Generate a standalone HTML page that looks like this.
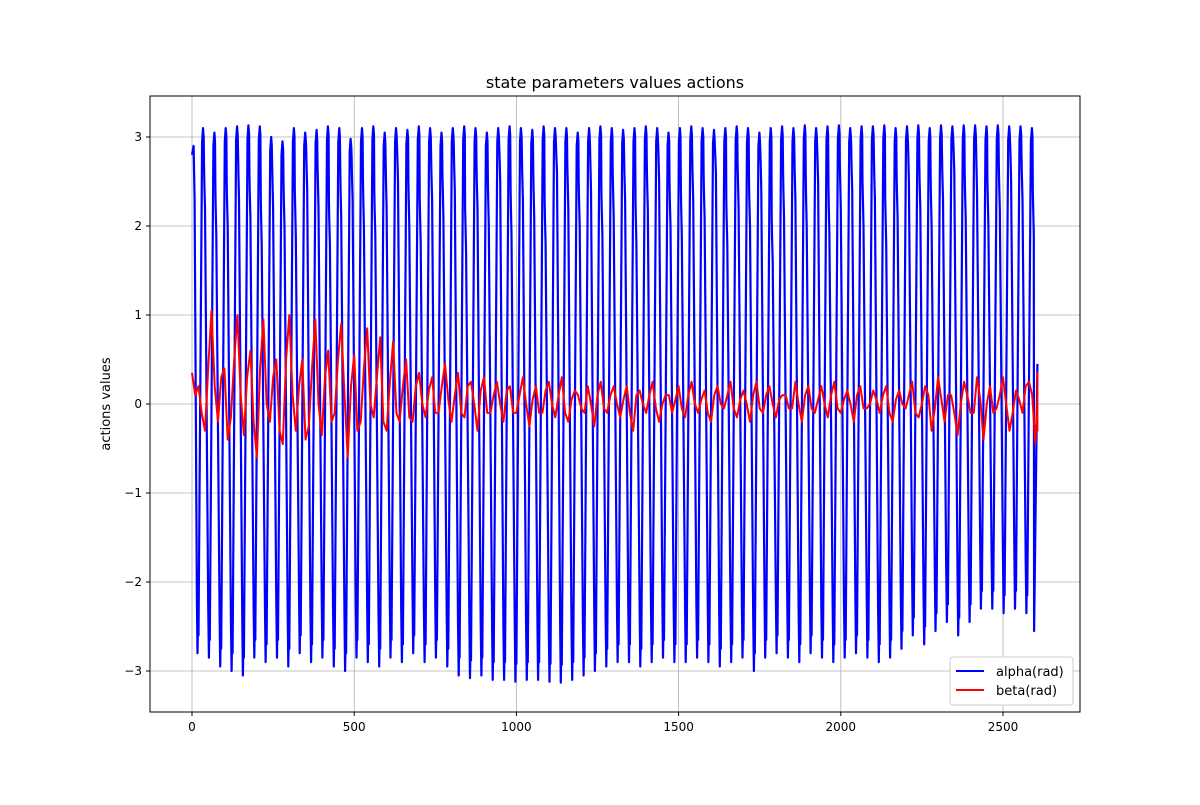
<!DOCTYPE html>
<html><head><meta charset="utf-8"><style>
body{margin:0;background:#fff;font-family:"Liberation Sans","DejaVu Sans",sans-serif;}
svg text{font-family:"DejaVu Sans","Liberation Sans",sans-serif;}
</style></head><body>
<svg id="chart" width="1200" height="800" xmlns="http://www.w3.org/2000/svg">
<rect width="1200" height="800" fill="#fff"/>
<g id="grid"></g><g id="series"></g><g id="axes"></g>
<text x="615" y="88" text-anchor="middle" font-size="16">state parameters values actions</text>
<text transform="translate(110,404) rotate(-90)" text-anchor="middle" font-size="13">actions values</text>
<g>
<rect x="950" y="657" width="123" height="48" rx="3" fill="#fff" stroke="#ccc"/>
<line x1="956" y1="671" x2="984" y2="671" stroke="blue" stroke-width="2"/>
<text x="996" y="676" font-size="13">alpha(rad)</text>
<line x1="956" y1="690" x2="984" y2="690" stroke="red" stroke-width="2"/>
<text x="996" y="695" font-size="13">beta(rad)</text>
</g>
</svg>
<script>
const xTicks=[0,500,1000,1500,2000,2500];
const yTicks=[-3,-2,-1,0,1,2,3];
const alphaPeakX=[34,69,104,139,174,209,244,279,314,349,384,419,454,489,524,559,594,629,664,699,734,769,804,839,874,909,944,979,1014,1049,1084,1119,1154,1189,1224,1259,1294,1329,1364,1399,1434,1469,1504,1539,1574,1609,1644,1679,1714,1749,1784,1819,1854,1889,1924,1959,1994,2029,2064,2099,2134,2169,2204,2239,2274,2309,2344,2379,2414,2449,2484,2519,2554,2589];
const alphaPeaks=[3.1,3.05,3.1,3.12,3.13,3.12,3.0,2.95,3.1,3.05,3.08,3.12,3.1,2.98,3.1,3.12,3.05,3.1,3.08,3.12,3.1,3.05,3.1,3.12,3.1,3.05,3.1,3.12,3.1,3.08,3.12,3.1,3.1,3.05,3.1,3.12,3.1,3.08,3.1,3.12,3.1,3.05,3.1,3.12,3.1,3.08,3.1,3.12,3.1,3.05,3.1,3.12,3.1,3.13,3.1,3.12,3.13,3.1,3.12,3.12,3.13,3.1,3.12,3.13,3.1,3.13,3.12,3.13,3.13,3.12,3.13,3.12,3.12,3.1];
const alphaTroughs=[-2.8,-2.85,-2.95,-3.0,-3.05,-2.85,-2.9,-2.85,-2.95,-2.8,-2.9,-2.85,-2.95,-3.0,-2.85,-2.9,-2.95,-2.85,-2.9,-2.8,-2.9,-2.85,-2.95,-3.05,-3.08,-3.05,-3.1,-3.1,-3.12,-3.1,-3.1,-3.12,-3.13,-3.1,-3.05,-3.0,-2.95,-2.9,-2.9,-2.95,-2.9,-2.85,-2.9,-2.9,-2.85,-2.9,-2.95,-2.9,-2.85,-3.0,-2.85,-2.8,-2.85,-2.9,-2.8,-2.85,-2.9,-2.85,-2.8,-2.85,-2.9,-2.85,-2.75,-2.6,-2.7,-2.55,-2.45,-2.6,-2.45,-2.3,-2.3,-2.35,-2.3,-2.35];
const alphaKnee=[2.2,1.9,2.0,2.3,2.1,1.8,2.2,2.0,1.9,2.4,2.2,1.8,2.1,2.3,2.0,1.9,2.2,2.5,2.0,1.8,2.3,2.1,2.4,1.7,2.2,2.0,2.5,1.9,2.3,2.1,1.8,2.6,2.2,2.0,2.4,1.9,2.1,2.3,1.8,2.2,2.5,2.0,1.9,2.3,2.1,2.6,1.8,2.2,2.0,2.4,1.6,2.1,2.3,2.0,2.5,1.9,2.2,2.4,2.0,2.3,1.8,2.1,2.5,2.2,2.0,2.3,2.6,2.1,2.4,2.0,2.2,2.5,2.3,1.9];
const alphaStart=[[0,2.8],[5,2.9],[8,2.3]];
const alphaEnd=[[2596,-2.55],[2606,0.45]];
const betaX0=0, betaStep=20;
const betaVals=[0.35,0.2,-0.3,1.05,-0.2,0.4,-0.15,1.0,-0.35,0.6,-0.6,0.95,-0.2,0.5,-0.45,1.0,-0.3,0.5,-0.25,0.95,-0.35,0.6,-0.1,0.9,-0.6,0.55,-0.2,0.85,-0.15,0.75,-0.3,0.7,-0.2,0.5,-0.2,0.35,-0.15,0.3,-0.1,0.45,-0.2,0.35,-0.15,0.25,-0.3,0.3,-0.1,0.25,-0.2,0.2,-0.1,0.3,-0.25,0.2,-0.1,0.25,-0.15,0.3,-0.2,0.15,-0.05,0.2,-0.25,0.25,-0.1,0.2,-0.15,0.2,-0.3,0.15,-0.1,0.25,-0.2,0.1,-0.1,0.2,-0.15,0.25,-0.1,0.15,-0.2,0.2,-0.05,0.25,-0.15,0.15,-0.2,0.25,-0.1,0.2,-0.15,0.1,-0.05,0.25,-0.2,0.2,-0.1,0.2,-0.15,0.25,-0.1,0.15,-0.2,0.2,-0.05,0.15,-0.1,0.2,-0.2,0.15,-0.05,0.25,-0.15,0.2,-0.3,0.3,-0.2,0.1,-0.35,0.25,-0.1,0.3,-0.4,0.2,-0.05,0.3,-0.3,0.15,-0.1,0.25,-0.45,0.1,-0.3,0.35,0.3];
const betaMid=[0.1,-0.1,0.4,0.2,0.3,-0.4,0.5,0.1,0.3,-0.2,0.4,0.0,0.3,-0.3,0.5,0.1,0.2,-0.4,0.4,0.0,0.3,-0.2,0.5,0.1,0.2,-0.3,0.4,0.0,0.3,-0.2,0.25,-0.1,0.2,-0.15,0.2,0.0,0.15,-0.1,0.2,0.05,0.1,-0.1,0.2,0.0,0.15,-0.1,0.1,0.0,0.15,-0.1,0.1,0.0,0.05,-0.1,0.15,0.0,0.1,-0.1,0.05,0.1,-0.1,0.0,0.1,-0.05,0.1,0.0,0.05,-0.1,0.1,0.0,0.1,-0.05,0.0,0.1,0.05,-0.05,0.1,0.0,0.05,-0.1,0.1,0.0,0.1,-0.05,0.05,0.0,0.1,-0.05,0.1,0.0,0.05,0.1,-0.05,0.0,0.1,-0.05,0.05,0.0,0.1,-0.05,0.05,0.0,0.1,-0.05,0.0,0.05,0.1,-0.1,0.05,0.0,0.1,-0.1,0.0,0.1,-0.05,0.05,0.1,-0.1,0.0,0.1,-0.1,0.05,0.0,-0.1,0.1,0.0,-0.1,0.05,0.2,0.1,0.3];
const X0=192, XS=(1003-192)/2500, Y0=404, YS=89;
const sx=v=>X0+v*XS, sy=v=>Y0-v*YS;
const NS='http://www.w3.org/2000/svg';
function mk(t,a,p){const e=document.createElementNS(NS,t);for(const k in a)e.setAttribute(k,a[k]);p.appendChild(e);return e;}
const grid=document.getElementById('grid'),axes=document.getElementById('axes'),series=document.getElementById('series');
xTicks.forEach(t=>{
 const g=mk('line',{x1:sx(t),x2:sx(t),y1:96,y2:712,stroke:'#b0b0b0','stroke-width':0.8},grid);
 
 
 mk('line',{x1:sx(t),x2:sx(t),y1:712,y2:716,stroke:'#000'},axes);
 const l=mk('text',{x:sx(t),y:731,'text-anchor':'middle','font-size':12},axes);l.textContent=t;
 
 
});
yTicks.forEach(t=>{
 const g=mk('line',{x1:150,x2:1080,y1:sy(t),y2:sy(t),stroke:'#b0b0b0','stroke-width':0.8},grid);
 
 
 mk('line',{x1:146,x2:150,y1:sy(t),y2:sy(t),stroke:'#000'},axes);
 const l=mk('text',{x:142,y:sy(t)+4,'text-anchor':'end','font-size':12},axes);l.textContent=(t<0?'\u2212'+(-t):t);
 
 
});
const fr=mk('rect',{x:150,y:96,width:930,height:616,fill:'none',stroke:'#000','stroke-width':1},axes);


let pts=alphaStart.slice();
alphaPeakX.forEach((px,i)=>{
 const tr=alphaTroughs[i],pk=alphaPeaks[i],kn=alphaKnee[i];
 pts.push([px-19,tr+0.6]);pts.push([px-17,tr]);pts.push([px-15,tr+0.5]);pts.push([px-14,tr+0.2]);
 pts.push([px-3,pk-0.15]);pts.push([px,pk]);pts.push([px+2,pk-0.1]);pts.push([px+3,Math.min(kn+0.5,pk-0.2)]);pts.push([px+4,Math.min(kn+0.3,pk-0.3)]);pts.push([px+6,kn]);
});
pts=pts.concat(alphaEnd);
const a=mk('polyline',{points:pts.map(p=>sx(p[0]).toFixed(1)+','+sy(p[1]).toFixed(1)).join(' '),fill:'none',stroke:'blue','stroke-width':2.2,'stroke-linejoin':'round'},series);


let bp=[];
betaVals.forEach((v,i)=>{const x=betaX0+i*betaStep;bp.push([Math.min(x,2606),v]);if(i<betaMid.length&&x+betaStep/2<2606)bp.push([x+betaStep/2,betaMid[i]]);});
const b=mk('polyline',{points:bp.map(p=>sx(p[0]).toFixed(1)+','+sy(p[1]).toFixed(1)).join(' '),fill:'none',stroke:'red','stroke-width':2,'stroke-linejoin':'round'},series);


</script>
</body></html>
